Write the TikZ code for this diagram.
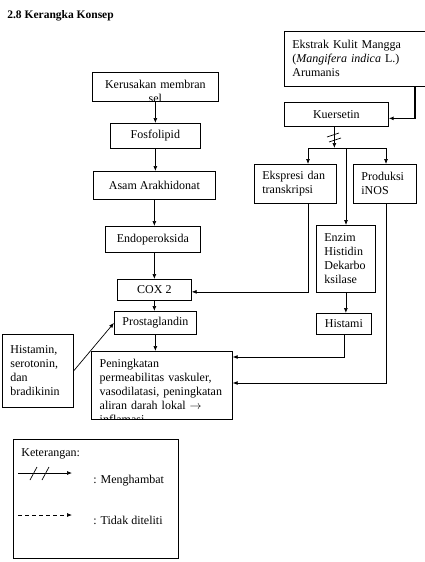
\documentclass[tikz,border=0pt]{standalone}
\usepackage{fontspec}
\setmainfont{Liberation Serif}
\usetikzlibrary{arrows.meta}

\begin{document}
\begin{tikzpicture}[x=1pt,y=-1pt,line width=0.7pt,
    every node/.style={font=\fontsize{12}{14}\selectfont},
    box/.style={draw,anchor=north west,inner sep=0pt,align=center},
    txtbox/.style={box,inner xsep=8pt,align=left},
    arr/.style={-{Latex[length=5pt,width=4pt]}}]
    \useasboundingbox (0,0) rectangle (425,562);

    %JUDUL
    \node[anchor=base west,inner sep=0pt,font=\bfseries\fontsize{11.5}{14}\selectfont] (judul) at (7,18) {2.8 Kerangka Konsep};

    %JALUR KIRI
    \node[box,minimum width=126pt,minimum height=29pt,
        path picture={\node[anchor=north,inner xsep=0pt,inner ysep=7pt,text width=118pt,align=center]
        at (path picture bounding box.north) {Kerusakan membran\\ sel};}] (kerusakan) at (92,72) {};
    \node[box,minimum width=90pt,minimum height=25pt] (fosfolipid) at (110,123) {Fosfolipid};
    \node[box,minimum width=122pt,minimum height=28pt] (asam) at (93,171) {Asam Arakhidonat};
    \node[box,minimum width=95pt,minimum height=26pt] (endo) at (105,226) {Endoperoksida};
    \node[box,minimum width=74pt,minimum height=21pt] (cox) at (117,279) {COX 2};
    \node[box,minimum width=82pt,minimum height=23pt] (prosta) at (114,311) {Prostaglandin};
    \node[box,minimum width=141pt,minimum height=68pt,
        path picture={\node[anchor=north west,inner xsep=8pt,inner ysep=7pt,text width=125pt,align=left]
        at (path picture bounding box.north west) {Peningkatan\\ permeabilitas vaskuler,\\ vasodilatasi, peningkatan\\ aliran darah lokal $\rightarrow$\\ inflamasi};}] (naik) at (91,351) {};
    \node[txtbox,text width=55pt,minimum height=73pt] (histamin) at (2,334) {Histamin,\\ serotonin,\\ dan\\ bradikinin};

    \draw[arr] (kerusakan.south) -- (kerusakan.south |- fosfolipid.north);
    \draw[arr] (fosfolipid.south) -- (fosfolipid.south |- asam.north);
    \draw[arr] (asam.south) -- (asam.south |- endo.north);
    \draw[arr] (cox.north |- endo.south) -- (cox.north);
    \draw[arr] (cox.south) -- (cox.south |- prosta.north);
    \draw[arr] (prosta.south) -- (prosta.south |- naik.north);
    \draw[arr] (histamin.east) -- (prosta.west);

    %JALUR KANAN
    \node[txtbox,text width=129pt,minimum height=55pt] (ekstrak) at (284,31) {Ekstrak Kulit Mangga\\ (\textit{Mangifera indica} L.)\\ Arumanis};
    \node[box,minimum width=104pt,minimum height=24pt] (kuersetin) at (284,102) {Kuersetin};
    \node[txtbox,text width=66pt,minimum height=39pt] (ekspresi) at (254,164) {Ekspresi dan\\ transkripsi};
    \node[txtbox,text width=47pt,minimum height=39pt] (produksi) at (353,164) {Produksi\\ iNOS};
    \node[txtbox,text width=43pt,minimum height=67pt] (enzim) at (316,225) {Enzim\\ Histidin\\ Dekarbo\\ ksilase};
    \node[box,minimum width=55pt,minimum height=21pt] (histami) at (316,313) {Histami};

    \coordinate (cabangL) at (308,148);
    \coordinate (cabangM) at (346,148);
    \coordinate (cabangR) at (386,148);

    \draw[arr,line width=1.5pt] (415,86) |- ([yshift=-4pt]kuersetin.east);
    \draw[arr] ([xshift=-2pt]kuersetin.south) -- ([xshift=-2pt]kuersetin.south |- cabangM);
    \draw (327,137) -- (339,133);
    \draw (329,142) -- (341,138);
    \draw (cabangL) -- (cabangR);
    \draw[arr] (cabangL) -- (cabangL |- ekspresi.north);
    \draw[arr] (cabangR) -- (cabangR |- produksi.north);
    \draw[arr] (cabangM) -- (cabangM |- enzim.north);
    \draw[arr] (enzim.south) -- (enzim.south |- histami.north);
    \draw[arr] (cabangL |- ekspresi.south) |- ([yshift=-2pt]cox.east);
    \draw[arr] (histami.south) |- ([yshift=-6pt]naik.north east);
    \draw[arr] (cabangR |- produksi.south) |- ([yshift=-32pt]naik.north east);

    %KETERANGAN
    \node[box,minimum width=165pt,minimum height=119pt] (legenda) at (13,439) {};
    \node[anchor=base west,inner sep=0pt] (ket) at (21,456) {Keterangan:};
    \coordinate (hambatA) at (18,473);
    \coordinate (hambatB) at (72,473);
    \draw[arr] (hambatA) -- (hambatB);
    \draw (30,480) -- (37,467);
    \draw (42,480) -- (49,467);
    \node[anchor=base west,inner sep=0pt] (menghambat) at (93,483) {: Menghambat};
    \coordinate (tidakA) at (18,515);
    \coordinate (tidakB) at (72,515);
    \draw[arr,dash pattern=on 4pt off 3pt] (tidakA) -- (tidakB);
    \node[anchor=base west,inner sep=0pt] (tidak) at (93,524) {: Tidak diteliti};
\end{tikzpicture}
\end{document}
